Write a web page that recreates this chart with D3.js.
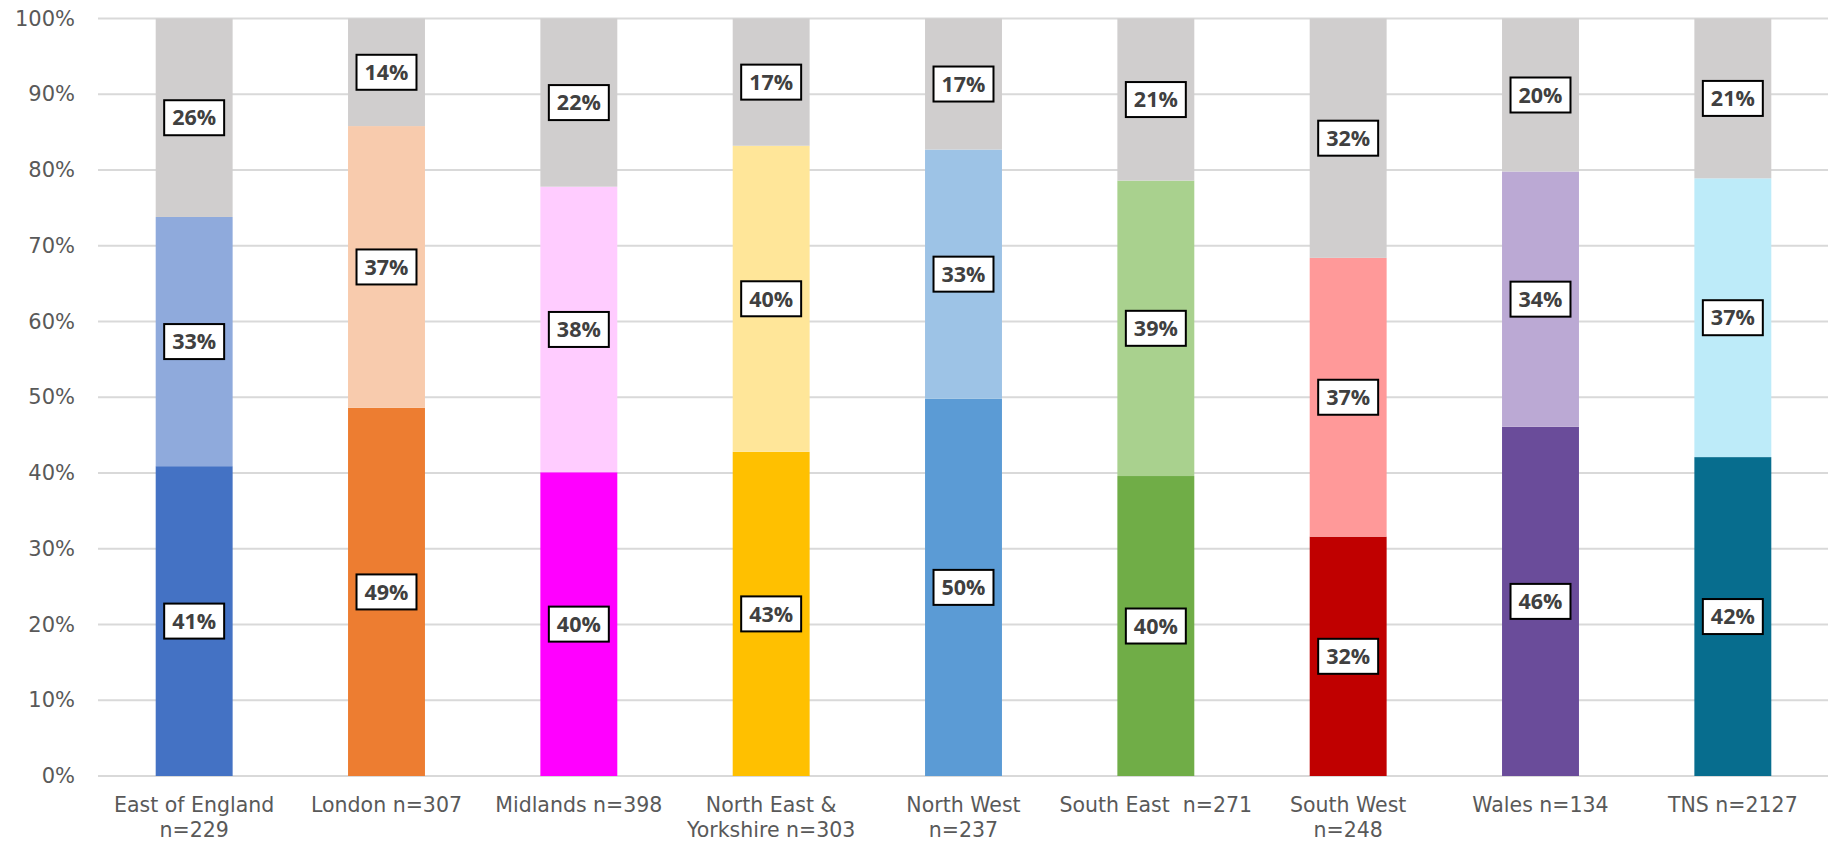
<!DOCTYPE html>
<html>
<head>
<meta charset="utf-8">
<script src="https://cdn.jsdelivr.net/npm/d3@7"></script>
<style>
  html, body { margin: 0; padding: 0; background: #fff; }
  svg { display: block; }
</style>
</head>
<body>
<svg id="chart" width="1828" height="843"></svg>
<script>
// ---- data ----
const categories = [
  "East of England\nn=229",
  "London n=307",
  "Midlands n=398",
  "North East &\nYorkshire n=303",
  "North West\nn=237",
  "South East  n=271",
  "South West\nn=248",
  "Wales n=134",
  "TNS n=2127"
];
const series1 = [40.9, 48.6, 40.1, 42.8, 49.8, 39.6, 31.6, 46.1, 42.1];
const series2 = [32.9, 37.2, 37.7, 40.4, 32.9, 39.0, 36.8, 33.7, 36.8];
const series3 = [26.2, 14.2, 22.2, 16.8, 17.3, 21.4, 31.6, 20.2, 21.1];
const colors1 = ["#4472C4", "#ED7D31", "#FF00FF", "#FFC000", "#5B9BD5", "#70AD47", "#C00000", "#6A4C9A", "#076D8E"];
const colors2 = ["#8FAADC", "#F8CBAD", "#FFCCFF", "#FFE699", "#9DC3E6", "#A9D18E", "#FF9999", "#BBA9D4", "#BDEBF9"];
const color3 = "#D0CECE";
const yTicks = [0, 10, 20, 30, 40, 50, 60, 70, 80, 90, 100];

(function () {
  const svg = d3.select("#chart");
  const pL = 98, pR = 1829, pT = 18.5, pB = 776;
  const axisFont = "'DejaVu Sans', 'Open Sans', sans-serif";
  const labelFont = "'Open Sans', 'Noto Sans', sans-serif";

  const x = d3.scaleBand().domain(categories).range([pL, pR]).paddingInner(0).paddingOuter(0);
  const y = d3.scaleLinear().domain([0, 100]).range([pB, pT]);
  const barW = x.bandwidth() * 0.4;

  // gridlines
  svg.append("g").selectAll("line").data(yTicks).join("line")
    .attr("x1", pL).attr("x2", pR)
    .attr("y1", d => y(d)).attr("y2", d => y(d))
    .attr("stroke", "#D9D9D9").attr("stroke-width", 2);

  // y axis labels
  const yAxis = d3.axisLeft(y).tickValues(yTicks).tickFormat(d => d + "%").tickSize(0).tickPadding(23);
  const yg = svg.append("g").attr("transform", `translate(${pL},0)`).call(yAxis);
  yg.select(".domain").remove();
  yg.selectAll("text").attr("font-family", axisFont).attr("font-size", 21).attr("fill", "#595959");

  // stacked segments
  const segs = [];
  categories.forEach((c, i) => {
    const vals = [series1[i], series2[i], series3[i]];
    const cols = [colors1[i], colors2[i], color3];
    let acc = 0;
    vals.forEach((v, k) => {
      segs.push({ cat: c, y0: acc, y1: Math.min(acc + v, 100), v: v, color: cols[k] });
      acc += v;
    });
  });

  svg.append("g").selectAll("rect").data(segs).join("rect")
    .attr("x", d => x(d.cat) + (x.bandwidth() - barW) / 2)
    .attr("width", barW)
    .attr("y", d => y(d.y1))
    .attr("height", d => y(d.y0) - y(d.y1))
    .attr("fill", d => d.color);

  // value labels
  const lg = svg.append("g");
  segs.forEach(d => {
    const cx = x(d.cat) + x.bandwidth() / 2;
    const cy = y((d.y0 + d.y1) / 2);
    const g = lg.append("g").attr("transform", `translate(${cx},${cy})`);
    const rect = g.append("rect");
    const t = g.append("text")
      .attr("text-anchor", "middle")
      .attr("dy", "0.36em")
      .attr("font-family", labelFont).attr("font-weight", 700).attr("font-size", 21.5)
      .attr("fill", "#404040")
      .text(Math.round(d.v) + "%");
    const w = t.node().getComputedTextLength() + 16;
    rect.attr("x", -w / 2).attr("y", -17.5).attr("width", w).attr("height", 35)
      .attr("fill", "#fff").attr("stroke", "#000").attr("stroke-width", 2);
  });

  // x axis labels (one text per line)
  const xg = svg.append("g");
  categories.forEach(c => {
    const lines = c.split("\n");
    const cx = x(c) + x.bandwidth() / 2;
    lines.forEach((l, i) => {
      xg.append("text")
        .attr("x", cx)
        .attr("y", pB + 36 + i * 25)
        .attr("text-anchor", "middle")
        .style("white-space", "pre")
        .attr("font-family", axisFont).attr("font-size", 20.5).attr("fill", "#595959")
        .text(l);
    });
  });
})();
</script>
</body>
</html>
